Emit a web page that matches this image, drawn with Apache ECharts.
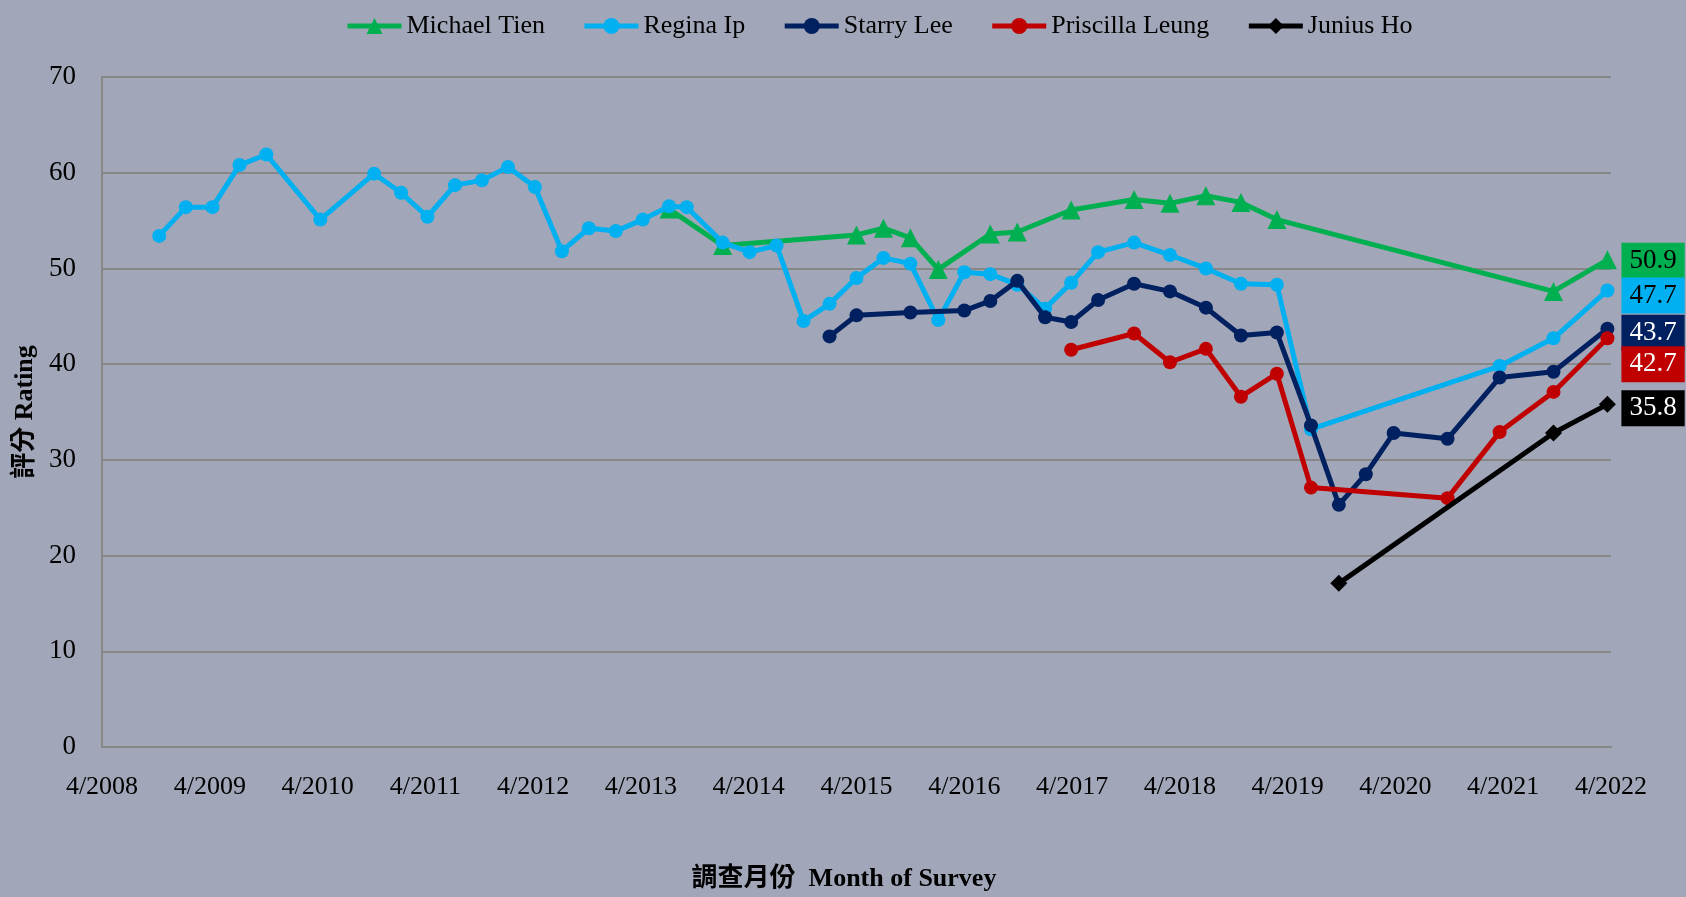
<!DOCTYPE html>
<html>
<head>
<meta charset="utf-8">
<script src="https://cdn.jsdelivr.net/npm/echarts@6/dist/echarts.min.js"></script>
<style>
html,body{margin:0;padding:0;background:#A1A6B8;}
#chart{width:1686px;height:897px;}
</style>
</head>
<body>
<div id="chart"></div>
<script>
// ---- data ----
const seriesNames = ['Michael Tien', 'Regina Ip', 'Starry Lee', 'Priscilla Leung', 'Junius Ho'];

const tienDates = ['2013-07-05','2014-01-04','2015-04-01','2015-07-01','2015-10-01','2016-01-04','2016-06-28','2016-09-28','2017-03-28','2017-10-28','2018-02-28','2018-06-28','2018-10-25','2019-02-25','2021-09-19','2022-03-19'];
const tienValues = [56.2, 52.4, 53.5, 54.2, 53.2, 49.9, 53.6, 53.8, 56.1, 57.2, 56.8, 57.6, 56.9, 55.1, 47.6, 50.9];

const ipDates = ['2008-10-12','2009-01-11','2009-04-10','2009-07-10','2009-10-10','2010-04-10','2010-10-10','2011-01-10','2011-04-08','2011-07-10','2011-10-10','2012-01-07','2012-04-07','2012-07-07','2012-10-07','2013-01-07','2013-04-07','2013-07-05','2013-09-04','2014-01-04','2014-04-04','2014-07-04','2014-10-04','2015-01-01','2015-04-01','2015-07-01','2015-10-01','2016-01-04','2016-04-01','2016-06-28','2016-09-28','2017-01-01','2017-03-28','2017-06-28','2017-10-28','2018-02-28','2018-06-28','2018-10-25','2019-02-25','2019-06-19','2021-03-19','2021-09-19','2022-03-19'];
const ipValues = [53.4, 56.4, 56.4, 60.8, 61.9, 55.1, 59.9, 57.9, 55.4, 58.7, 59.2, 60.6, 58.5, 51.8, 54.2, 53.9, 55.1, 56.5, 56.4, 52.7, 51.7, 52.4, 44.5, 46.3, 49.0, 51.1, 50.5, 44.6, 49.6, 49.4, 48.3, 45.8, 48.5, 51.7, 52.7, 51.4, 50.0, 48.4, 48.3, 33.2, 39.8, 42.7, 47.7];

const leeDates = ['2015-01-01','2015-04-01','2015-10-01','2016-04-01','2016-06-28','2016-09-28','2017-01-01','2017-03-28','2017-06-28','2017-10-28','2018-02-28','2018-06-28','2018-10-25','2019-02-25','2019-06-19','2019-09-22','2019-12-22','2020-03-25','2020-09-25','2021-03-19','2021-09-19','2022-03-19'];
const leeValues = [42.9, 45.1, 45.4, 45.6, 46.6, 48.7, 44.9, 44.4, 46.7, 48.4, 47.6, 45.9, 43.0, 43.3, 33.6, 25.3, 28.5, 32.8, 32.2, 38.6, 39.2, 43.7];

const leungDates = ['2017-03-28','2017-10-28','2018-02-28','2018-06-28','2018-10-25','2019-02-25','2019-06-19','2020-09-25','2021-03-19','2021-09-19','2022-03-19'];
const leungValues = [41.5, 43.2, 40.2, 41.6, 36.6, 39.0, 27.1, 26.0, 32.9, 37.1, 42.7];

const hoDates = ['2019-09-22','2021-09-19','2022-03-19'];
const hoValues = [17.1, 32.8, 35.8];

const startYear = 2008, startMonth = 4, endYear = 2022;
const yTicks = [0, 10, 20, 30, 40, 50, 60, 70];

// ---- helpers ----
function monthIndex(d) {
  const [y, m, day] = d.split('-').map(Number);
  return (y - startYear) * 12 + (m - startMonth) + (day - 1) / 30;
}
function pairs(dates, values) {
  return dates.map((d, i) => [monthIndex(d), values[i]]);
}

const serif = '"Liberation Serif", "Times New Roman", "Noto Sans CJK TC", serif';
const colors = ['#00B050', '#00B0F0', '#002060', '#C00000', '#000000'];
const symbols = ['triangle', 'circle', 'circle', 'circle', 'diamond'];
const symbolSizes = [19, 14, 14, 14, 17];
const labelText = ['#000', '#000', '#fff', '#fff', '#fff'];
const labelOffset = [[0, 1], [0, 5], [0, 4], [0, 26], [0, 4]];
const allData = [
  pairs(tienDates, tienValues),
  pairs(ipDates, ipValues),
  pairs(leeDates, leeValues),
  pairs(leungDates, leungValues),
  pairs(hoDates, hoValues)
];

const series = seriesNames.map((name, i) => ({
  name: name,
  type: 'line',
  data: allData[i],
  symbol: symbols[i],
  symbolSize: symbolSizes[i],
  showAllSymbol: true,
  lineStyle: { color: colors[i], width: 5 },
  itemStyle: { color: colors[i] },
  z: 2 + i,
  animation: false,
  endLabel: {
    show: true,
    formatter: p => p.value[1].toFixed(1),
    backgroundColor: colors[i],
    color: labelText[i],
    fontFamily: serif,
    fontSize: 27,
    lineHeight: 27,
    padding: [5, 8, 4, 8],
    distance: 14,
    offset: labelOffset[i]
  }
}));

const chart = echarts.init(document.getElementById('chart'), null, { renderer: 'canvas' });
chart.setOption({
  backgroundColor: '#A1A6B8',
  animation: false,
  color: colors,
  legend: {
    data: seriesNames,
    left: 340,
    top: 8,
    itemWidth: 54,
    itemHeight: 20,
    itemGap: 37,
    lineStyle: { width: 5 },
    textStyle: { fontFamily: serif, fontSize: 26, color: '#000' }
  },
  grid: { left: 102, right: 75, top: 77, bottom: 132.5, containLabel: false },
  xAxis: {
    type: 'value',
    min: 0,
    max: (endYear - startYear) * 12,
    interval: 12,
    name: '調查月份  Month of Survey',
    nameLocation: 'middle',
    nameGap: 119,
    nameTextStyle: { fontFamily: serif, fontSize: 26, fontWeight: 'bold', color: '#000', padding: [0, 25, 0, 0] },
    axisLine: { show: true, lineStyle: { color: '#878787', width: 2 } },
    axisTick: { show: false },
    splitLine: { show: false },
    axisLabel: {
      margin: 27,
      fontFamily: serif, fontSize: 26, color: '#000',
      formatter: v => startMonth + '/' + (startYear + Math.round(v / 12))
    }
  },
  yAxis: {
    type: 'value',
    min: yTicks[0],
    max: yTicks[yTicks.length - 1],
    interval: 10,
    name: '評分 Rating',
    nameLocation: 'middle',
    nameGap: 59,
    nameRotate: 90,
    nameTextStyle: { fontFamily: serif, fontSize: 26, fontWeight: 'bold', color: '#000' },
    axisLine: { show: true, lineStyle: { color: '#878787', width: 2 } },
    axisTick: { show: false },
    splitLine: { show: true, lineStyle: { color: '#878787', width: 2 } },
    axisLabel: { margin: 26, fontFamily: serif, fontSize: 27, color: '#000' }
  },
  series: series
});
</script>
</body>
</html>
